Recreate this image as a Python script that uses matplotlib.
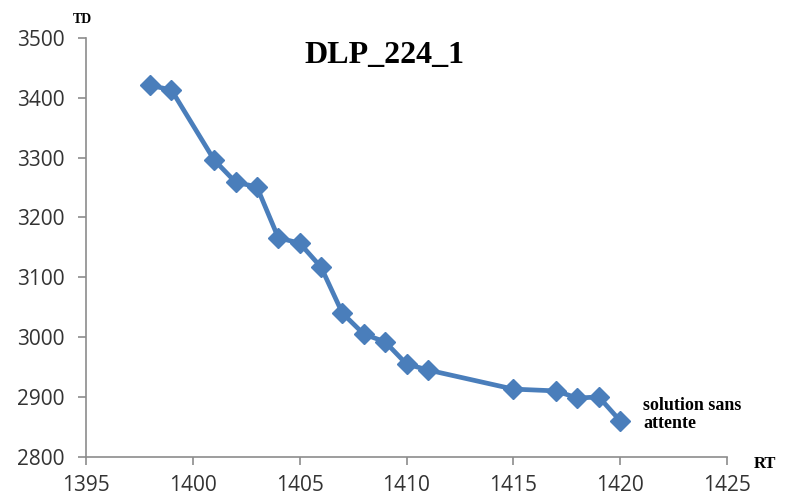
import matplotlib
matplotlib.use("Agg")
import matplotlib.pyplot as plt

rt = [1398, 1399, 1401, 1402, 1403, 1404, 1405, 1406, 1407, 1408, 1409,
      1410, 1411, 1415, 1417, 1418, 1419, 1420]
td = [3421, 3413, 3296, 3259, 3251, 3166, 3157, 3117, 3040, 3005, 2992,
      2955, 2945, 2913, 2910, 2898, 2900, 2860]
x_ticks = [1395, 1400, 1405, 1410, 1415, 1420, 1425]
y_ticks = [2800, 2900, 3000, 3100, 3200, 3300, 3400, 3500]
title = "DLP_224_1"
note = "solution sans\nattente"

fig = plt.figure(figsize=(7.87, 4.97), dpi=100)
ax = fig.add_axes([86/787, 1-456.7/497, (727-86)/787, (456.7-38)/497])
ax.plot(rt, td, color="#4A7EBB", lw=3.4, marker="D", ms=10,
        markeredgecolor="#4A7EBB", solid_joinstyle="round", clip_on=False)
ax.set_xlim(1395, 1425)
ax.set_ylim(2800, 3500)
ax.set_xticks(x_ticks)
ax.set_yticks(y_ticks)
for s in ["top", "right"]:
    ax.spines[s].set_visible(False)
for s in ["left", "bottom"]:
    ax.spines[s].set_color("#8C8C8C")
    ax.spines[s].set_linewidth(1.2)
ax.tick_params(direction="out", length=6, width=1.2, color="#8C8C8C",
               labelsize=15, labelcolor="#333333")
ax.tick_params(axis="y", pad=9.5)
ax.tick_params(axis="x", pad=7)
for lab in ax.get_xticklabels() + ax.get_yticklabels():
    lab.set_family("Open Sans")

serif = "Liberation Serif"
fig.text(384/787, 1-55.5/497, title, ha="center", va="center",
         fontsize=23, fontweight="bold", family=serif)
fig.text(82.5/787, 1-19.5/497, "TD", ha="center", va="center",
         fontsize=10, fontweight="bold", family=serif)
fig.text(765/787, 1-463.5/497, "RT", ha="center", va="center",
         fontsize=12, fontweight="bold", family=serif)
ax.annotate(note, xy=(rt[-1], td[-1]), xytext=(16.5, 4.5), textcoords="offset points",
            ha="left", va="center", fontsize=13, fontweight="bold", family=serif,
            linespacing=1.1)

fig.savefig("out.png", dpi=100, facecolor="white")
